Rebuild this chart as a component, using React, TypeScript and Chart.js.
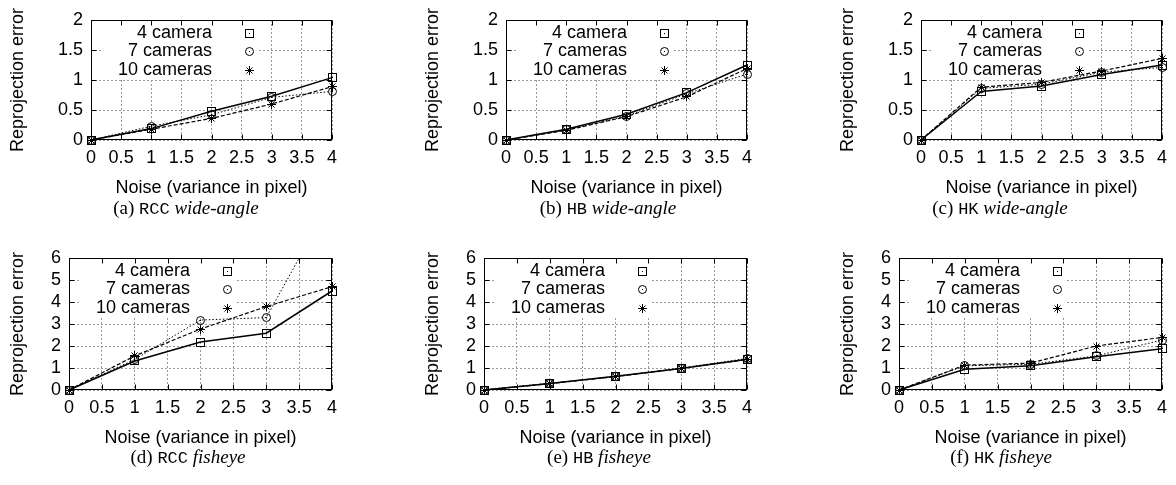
import React, { useEffect, useRef } from 'react';
import { Chart, registerables } from 'chart.js';

Chart.register(...registerables);

// ---------------- data ----------------
const noiseLevels = [0, 1, 2, 3, 4];
const seriesNames = ['4 camera', '7 cameras', '10 cameras'];
const xAxisTitle = 'Noise (variance in pixel)';
const yAxisTitle = 'Reprojection error';

const rccWide4 = [0, 0.19, 0.48, 0.73, 1.04];
const rccWide7 = [0, 0.23, 0.42, 0.71, 0.81];
const rccWide10 = [0, 0.18, 0.36, 0.6, 0.89];

const hbWide4 = [0, 0.18, 0.43, 0.79, 1.25];
const hbWide7 = [0, 0.17, 0.4, 0.77, 1.1];
const hbWide10 = [0, 0.16, 0.39, 0.72, 1.19];

const hkWide4 = [0, 0.81, 0.9, 1.09, 1.25];
const hkWide7 = [0, 0.86, 0.93, 1.13, 1.21];
const hkWide10 = [0, 0.88, 0.96, 1.15, 1.36];

const rccFish4 = [0, 1.32, 2.18, 2.58, 4.5];
const rccFish7 = [0, 1.39, 3.18, 3.29, 8.7];
const rccFish10 = [0, 1.55, 2.77, 3.79, 4.7];

const hbFish4 = [0, 0.3, 0.62, 0.98, 1.4];
const hbFish7 = [0, 0.31, 0.6, 1.0, 1.43];
const hbFish10 = [0, 0.29, 0.61, 0.99, 1.38];

const hkFish4 = [0, 0.94, 1.1, 1.51, 1.88];
const hkFish7 = [0, 1.1, 1.17, 1.55, 2.27];
const hkFish10 = [0, 1.13, 1.22, 2.0, 2.39];

const wideYMax = 2;
const wideYStep = 0.5;
const fishYMax = 6;
const fishYStep = 1;
const xMax = 4;
const xStep = 0.5;

// ---------------- layout ----------------
type PanelSpec = {
  key: string;
  left: number;
  top: number;
  height: number;
  yAxisW: number;
  yMax: number;
  yStep: number;
  series: number[][];
  tag: string;
  method: string;
  lens: string;
  capCx: number;
  capCy: number;
};

const CANVAS_W = 345;
const SANS = '"Liberation Sans", Arial, Helvetica, sans-serif';

const panels: PanelSpec[] = [
  { key: 'a', left: 0, top: 0, height: 200, yAxisW: 91, yMax: wideYMax, yStep: wideYStep, series: [rccWide4, rccWide7, rccWide10], tag: '(a)', method: 'RCC', lens: 'wide-angle', capCx: 186, capCy: 208 },
  { key: 'b', left: 415, top: 0, height: 200, yAxisW: 91, yMax: wideYMax, yStep: wideYStep, series: [hbWide4, hbWide7, hbWide10], tag: '(b)', method: 'HB', lens: 'wide-angle', capCx: 608, capCy: 208 },
  { key: 'c', left: 830, top: 0, height: 200, yAxisW: 91, yMax: wideYMax, yStep: wideYStep, series: [hkWide4, hkWide7, hkWide10], tag: '(c)', method: 'HK', lens: 'wide-angle', capCx: 1000, capCy: 208 },
  { key: 'd', left: 0, top: 238, height: 212, yAxisW: 69, yMax: fishYMax, yStep: fishYStep, series: [rccFish4, rccFish7, rccFish10], tag: '(d)', method: 'RCC', lens: 'fisheye', capCx: 188, capCy: 457 },
  { key: 'e', left: 415, top: 238, height: 212, yAxisW: 69, yMax: fishYMax, yStep: fishYStep, series: [hbFish4, hbFish7, hbFish10], tag: '(e)', method: 'HB', lens: 'fisheye', capCx: 599, capCy: 457 },
  { key: 'f', left: 830, top: 238, height: 212, yAxisW: 69, yMax: fishYMax, yStep: fishYStep, series: [hkFish4, hkFish7, hkFish10], tag: '(f)', method: 'HK', lens: 'fisheye', capCx: 1001, capCy: 457 },
];

// ---------------- markers ----------------
function makeMarker(kind: 'square' | 'circle' | 'star'): HTMLCanvasElement {
  const c = document.createElement('canvas');
  c.width = 13;
  c.height = 13;
  const g = c.getContext('2d')!;
  g.strokeStyle = '#000';
  g.fillStyle = '#000';
  g.lineWidth = 1;
  if (kind === 'square') {
    g.strokeRect(2.5, 2.5, 8, 8);
    g.fillRect(6, 6, 1, 1);
  } else if (kind === 'circle') {
    g.beginPath();
    g.arc(6.5, 6.5, 4, 0, Math.PI * 2);
    g.stroke();
    g.fillRect(6, 6, 1, 1);
  } else {
    g.beginPath();
    g.moveTo(6.5, 2); g.lineTo(6.5, 11);
    g.moveTo(2, 6.5); g.lineTo(11, 6.5);
    g.moveTo(3.5, 3.5); g.lineTo(9.5, 9.5);
    g.moveTo(9.5, 3.5); g.lineTo(3.5, 9.5);
    g.stroke();
  }
  return c;
}

const framePlugin = {
  id: 'gnuFrame',
  beforeDatasetsDraw(chart: any) {
    chart.ctx.imageSmoothingEnabled = false;
  },
  afterDatasetsDraw(chart: any) {
    const { ctx, chartArea: a, scales } = chart;
    ctx.save();
    ctx.strokeStyle = '#000';
    ctx.lineWidth = 1;
    ctx.setLineDash([]);
    const L = Math.round(a.left) + 0.5;
    const R = Math.round(a.right) - 0.5;
    const T = Math.round(a.top) + 0.5;
    const B = Math.round(a.bottom) - 0.5;
    ctx.strokeRect(L, T, R - L, B - T);
    ctx.beginPath();
    scales.x.ticks.forEach((t: any) => {
      const px = Math.round(scales.x.getPixelForValue(t.value)) + 0.5;
      ctx.moveTo(px, B); ctx.lineTo(px, B - 5);
      ctx.moveTo(px, T); ctx.lineTo(px, T + 5);
    });
    scales.y.ticks.forEach((t: any) => {
      const py = Math.round(scales.y.getPixelForValue(t.value)) + 0.5;
      ctx.moveTo(L, py); ctx.lineTo(L + 5, py);
      ctx.moveTo(R, py); ctx.lineTo(R - 5, py);
    });
    ctx.stroke();
    ctx.restore();
  },
};

const keyPlugin = {
  id: 'gnuKey',
  beforeDatasetsDraw(chart: any) {
    const { ctx, chartArea: a } = chart;
    ctx.save();
    ctx.imageSmoothingEnabled = false;
    ctx.fillStyle = '#fff';
    ctx.fillRect(a.left + 11, a.top + 1, 156, 57);
    ctx.fillStyle = '#000';
    ctx.font = '18px ' + SANS;
    ctx.textAlign = 'right';
    ctx.textBaseline = 'middle';
    chart.data.datasets.forEach((ds: any, i: number) => {
      const y = a.top + 13 + i * 18.5;
      ctx.fillText(ds.label, a.left + 121, y);
      const img = ds.pointStyle as HTMLCanvasElement;
      ctx.drawImage(img, Math.round(a.left + 158 - img.width / 2), Math.round(y - img.height / 2));
    });
    ctx.restore();
  },
};

const lineWidths = [1.5, 1, 1.2];
const lineDashes: number[][] = [[], [1.5, 2], [4, 2]];
const fmtTick = (v: any) => String(Math.round(Number(v) * 100) / 100);

function Panel({ spec }: { spec: PanelSpec }) {
  const ref = useRef<HTMLCanvasElement>(null);
  useEffect(() => {
    const canvas = ref.current!;
    const markers = [makeMarker('square'), makeMarker('circle'), makeMarker('star')];
    const font = { family: SANS, size: 18 };
    const chart = new Chart(canvas, {
      type: 'line',
      data: {
        datasets: spec.series.map((vals, i) => ({
          label: seriesNames[i],
          data: noiseLevels.map((x, j) => ({ x, y: vals[j] })),
          borderColor: '#000',
          backgroundColor: '#000',
          borderWidth: lineWidths[i],
          borderDash: lineDashes[i],
          pointStyle: markers[i] as any,
          pointRadius: 4,
          pointHoverRadius: 4,
          fill: false,
          tension: 0,
          clip: { left: 10, right: 10, top: 0, bottom: 10 } as any,
        })),
      },
      options: {
        responsive: false,
        animation: false,
        devicePixelRatio: 1,
        events: [],
        layout: { padding: { left: 0, top: 20, right: 13, bottom: 0 } },
        plugins: { legend: { display: false }, tooltip: { enabled: false } },
        scales: {
          x: {
            type: 'linear',
            min: 0,
            max: xMax,
            ticks: { stepSize: xStep, padding: 7, font, color: '#000', autoSkip: false, maxRotation: 0, minRotation: 0, callback: fmtTick },
            grid: { drawTicks: false, color: '#9a9a9a', lineWidth: 1 },
            border: { display: false, dash: [2, 2] },
            title: { display: true, text: xAxisTitle, font, color: '#000', padding: { top: 0, bottom: 1 } },
            afterFit: (s: any) => { s.height = 60; },
          },
          y: {
            type: 'linear',
            min: 0,
            max: spec.yMax,
            ticks: { stepSize: spec.yStep, padding: 8, font, color: '#000', autoSkip: false, callback: fmtTick },
            grid: { drawTicks: false, color: '#9a9a9a', lineWidth: 1 },
            border: { display: false, dash: [2, 2] },
            title: { display: true, text: yAxisTitle, font, color: '#000', padding: { top: 7, bottom: 0 } },
            afterFit: (s: any) => { s.width = spec.yAxisW; },
          },
        },
      },
      plugins: [keyPlugin, framePlugin],
    } as any);
    return () => chart.destroy();
  }, [spec]);
  return (
    <canvas
      ref={ref}
      width={CANVAS_W}
      height={spec.height}
      style={{ position: 'absolute', left: spec.left, top: spec.top, width: CANVAS_W, height: spec.height }}
    />
  );
}

function Caption({ spec }: { spec: PanelSpec }) {
  return (
    <div
      style={{
        position: 'absolute',
        left: spec.capCx - 150,
        top: spec.capCy - 12,
        width: 300,
        height: 24,
        lineHeight: '24px',
        textAlign: 'center',
        fontFamily: '"Liberation Serif", "Times New Roman", serif',
        fontSize: 19,
        color: '#000',
        whiteSpace: 'nowrap',
      }}
    >
      {spec.tag}{' '}
      <span style={{ fontFamily: '"Liberation Mono", "DejaVu Sans Mono", monospace', fontSize: 17 }}>{spec.method}</span>{' '}
      <i>{spec.lens}</i>
    </div>
  );
}

export default function App() {
  return (
    <div style={{ position: 'absolute', left: 0, top: 0, width: 1176, height: 485, background: '#fff', overflow: 'hidden' }}>
      {panels.map((p) => (
        <React.Fragment key={p.key}>
          <Panel spec={p} />
          <Caption spec={p} />
        </React.Fragment>
      ))}
    </div>
  );
}
